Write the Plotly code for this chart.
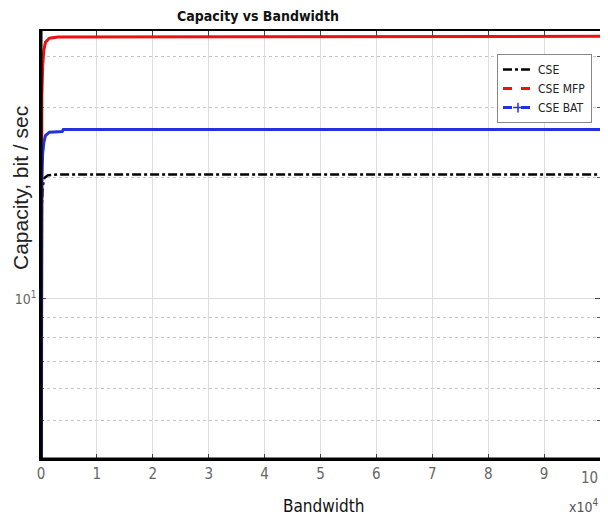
import plotly.graph_objects as go

# Bandwidth in Hz
bw_cse = [0, 50, 150, 300, 600, 1200, 3000, 100000]
cap_cse = [1.0, 13.0, 17.0, 19.0, 20.0, 20.3, 20.4, 20.4]

bw_mfp = [0, 50, 150, 300, 500, 800, 1500, 3000, 100000]
cap_mfp = [1.0, 20.0, 32.0, 38.0, 41.5, 43.5, 44.5, 44.8, 45.0]

bw_bat = [0, 50, 150, 300, 500, 800, 1500, 3800, 4000, 100000]
cap_bat = [1.0, 15.0, 20.0, 23.0, 24.5, 25.5, 26.0, 26.1, 26.4, 26.4]

x_tickvals = [0, 10000, 20000, 30000, 40000, 50000, 60000, 70000, 80000, 90000, 100000]
x_ticktext = ["0", "1", "2", "3", "4", "5", "6", "7", "8", "9", "10"]
y_major_vals = [10]
y_major_text = ["10<sup>1</sup>"]
y_minor_vals = [5, 6, 7, 8, 9, 20, 30, 40]

NARROW = "Liberation Sans Narrow, DejaVu Sans Condensed, Liberation Sans, Arial, sans-serif"

W, H = 600, 511  # page has an 8px body margin

fig = go.Figure()

# visible curves
fig.add_trace(go.Scatter(x=bw_cse, y=cap_cse, mode="lines", showlegend=False,
                         line=dict(color="black", width=2.5, dash="dashdot")))
fig.add_trace(go.Scatter(x=bw_mfp, y=cap_mfp, mode="lines", showlegend=False,
                         line=dict(color="#ee1111", width=3)))
fig.add_trace(go.Scatter(x=bw_bat, y=cap_bat, mode="lines", showlegend=False,
                         line=dict(color="#2233dd", width=3)))

# legend entries
fig.add_trace(go.Scatter(x=[None], y=[None], mode="lines", name="CSE",
                         line=dict(color="black", width=2.5, dash="dashdot")))
fig.add_trace(go.Scatter(x=[None], y=[None], mode="lines", name="CSE MFP",
                         line=dict(color="#ee1111", width=3, dash="dash")))
fig.add_trace(go.Scatter(x=[None], y=[None], mode="lines+markers", name="CSE BAT",
                         line=dict(color="#2233dd", width=3, dash="dash"),
                         marker=dict(symbol="cross-thin", size=7,
                                     line=dict(color="#2233dd", width=1.5))))

# last tick label is drawn separately (right-aligned) so it stays inside the view
shown_ticktext = x_ticktext[:-1] + [""]

fig.update_layout(
    width=W, height=H,
    margin=dict(l=33, r=8, t=23, b=60, autoexpand=False),
    paper_bgcolor="white", plot_bgcolor="white",
    font=dict(family=NARROW, color="#555555"),
    showlegend=True,
    legend=dict(x=0.9857, y=0.946, xanchor="right", yanchor="top",
                bgcolor="white", bordercolor="#888888", borderwidth=1,
                font=dict(family=NARROW, size=12, color="#222222"),
                tracegroupgap=0, itemwidth=30),
    title=dict(text="<b>Capacity vs Bandwidth</b>", x=250/W, xanchor="center",
               y=1-3/H, yanchor="top", xref="container", yref="container",
               font=dict(family=NARROW, size=14, color="#111111")),
    xaxis=dict(range=[0, 100000], tickmode="array", tickvals=x_tickvals, ticktext=shown_ticktext,
               automargin=False, ticklabeloverflow="allow",
               showgrid=True, gridcolor="#dddddd", gridwidth=1,
               showline=True, linecolor="black", linewidth=1.5, mirror="allticks",
               ticks="inside", ticklen=5, tickcolor="#444444",
               tickfont=dict(family=NARROW, size=15, color="#666666"),
               zeroline=False),
    yaxis=dict(type="log", range=[0.60206, 1.6665], tickmode="array",
               tickvals=y_major_vals, ticktext=y_major_text,
               automargin=False,
               showgrid=True, gridcolor="#dddddd", gridwidth=1,
               showline=True, linecolor="black", linewidth=1.5, mirror="allticks",
               ticks="inside", ticklen=5, tickcolor="#444444",
               tickfont=dict(family=NARROW, size=14, color="#666666"),
               minor=dict(tickmode="array", tickvals=y_minor_vals, ticks="inside", ticklen=3,
                          tickcolor="#555555", showgrid=True, gridcolor="#c4c4c4",
                          griddash="dot", gridwidth=1),
               zeroline=False),
)

# thicker left and bottom frame edges
fig.add_shape(type="line", xref="paper", yref="paper", x0=0, x1=0, y0=0, y1=1,
              line=dict(color="black", width=3))
fig.add_shape(type="line", xref="paper", yref="paper", x0=0, x1=1, y0=0, y1=0,
              line=dict(color="black", width=3))

fig.add_annotation(text=x_ticktext[-1], xref="x", yref="paper", x=x_tickvals[-1],
                   y=-(478-459)/428, xanchor="right", yanchor="middle", showarrow=False,
                   font=dict(family=NARROW, size=15, color="#666666"))
fig.add_annotation(text="Bandwidth", xref="paper", yref="paper", x=0.505, y=-(506-459)/428,
                   xanchor="center", yanchor="middle", showarrow=False,
                   font=dict(family=NARROW, size=17, color="#111111"))
fig.add_annotation(text="Capacity, bit / sec", xref="paper", yref="paper",
                   x=(20-41)/559, y=1-(188-31)/428, textangle=-90,
                   xanchor="center", yanchor="middle", showarrow=False,
                   font=dict(family="Liberation Sans, Arial, sans-serif", size=21, color="#222222"))
fig.add_annotation(text="x10<sup>4</sup>", xref="paper", yref="paper",
                   x=1, y=-(506-459)/428,
                   xanchor="right", yanchor="middle", showarrow=False,
                   font=dict(family=NARROW, size=14, color="#555555"))

fig.write_html("out.html")
